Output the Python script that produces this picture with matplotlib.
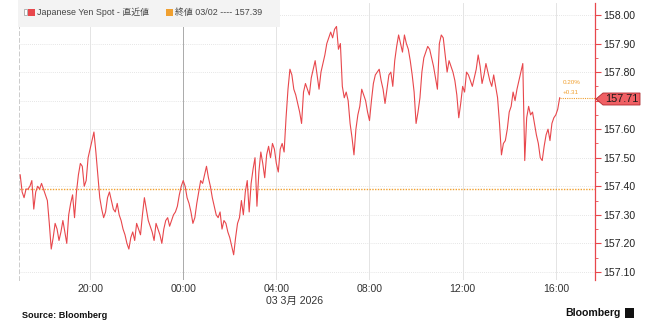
#!/usr/bin/env python3

import pandas
import matplotlib
matplotlib.use('Agg')
import matplotlib.pyplot as plt
import matplotlib.dates as mdates
import matplotlib.transforms as mtransforms
from matplotlib.patches import Polygon, Rectangle

# USD/JPY spot, 5 minute samples from 2026-03-02 17:00
start_time = '2026-03-02 17:00'
prices = [
    157.44, 157.38, 157.36, 157.39, 157.39, 157.40, 157.42, 157.32, 157.38, 157.40,
    157.39, 157.41, 157.39, 157.37, 157.35, 157.27, 157.18, 157.22, 157.27, 157.25,
    157.21, 157.24, 157.28, 157.24, 157.20, 157.30, 157.34, 157.37, 157.29, 157.38,
    157.44, 157.48, 157.47, 157.40, 157.42, 157.50, 157.53, 157.56, 157.59, 157.52,
    157.44, 157.36, 157.32, 157.29, 157.31, 157.36, 157.38, 157.35, 157.32, 157.31,
    157.34, 157.30, 157.28, 157.25, 157.23, 157.20, 157.18, 157.22, 157.24, 157.21,
    157.27, 157.25, 157.23, 157.30, 157.36, 157.32, 157.28, 157.26, 157.24, 157.21,
    157.27, 157.25, 157.23, 157.20, 157.25, 157.28, 157.29, 157.26, 157.28, 157.30,
    157.31, 157.33, 157.37, 157.40, 157.42, 157.40, 157.36, 157.34, 157.31, 157.27,
    157.29, 157.34, 157.38, 157.42, 157.41, 157.44, 157.47, 157.43, 157.40, 157.36,
    157.33, 157.30, 157.29, 157.31, 157.25, 157.28, 157.27, 157.24, 157.22, 157.19,
    157.16, 157.22, 157.27, 157.29, 157.35, 157.30, 157.38, 157.42, 157.31, 157.41,
    157.46, 157.50, 157.33, 157.45, 157.52, 157.48, 157.43, 157.51, 157.54, 157.50,
    157.55, 157.53, 157.48, 157.45, 157.53, 157.55, 157.52, 157.64, 157.74, 157.81,
    157.79, 157.74, 157.72, 157.69, 157.66, 157.62, 157.73, 157.76, 157.74, 157.72,
    157.78, 157.81, 157.84, 157.79, 157.74, 157.80, 157.83, 157.86, 157.90, 157.92,
    157.94, 157.92, 157.95, 157.96, 157.88, 157.90, 157.75, 157.71, 157.73, 157.70,
    157.62, 157.57, 157.51, 157.60, 157.65, 157.68, 157.74, 157.72, 157.70, 157.66,
    157.63, 157.70, 157.76, 157.79, 157.80, 157.81, 157.77, 157.74, 157.69, 157.74,
    157.79, 157.80, 157.75, 157.84, 157.89, 157.93, 157.90, 157.87, 157.93, 157.90,
    157.88, 157.84, 157.79, 157.73, 157.62, 157.66, 157.71, 157.80, 157.85, 157.87,
    157.89, 157.88, 157.85, 157.82, 157.78, 157.74, 157.90, 157.93, 157.92, 157.86,
    157.80, 157.84, 157.82, 157.80, 157.77, 157.72, 157.64, 157.69, 157.75, 157.73,
    157.80, 157.79, 157.77, 157.75, 157.78, 157.81, 157.86, 157.82, 157.76, 157.79,
    157.83, 157.80, 157.77, 157.75, 157.79, 157.75, 157.71, 157.62, 157.51, 157.55,
    157.56, 157.60, 157.66, 157.68, 157.73, 157.70, 157.74, 157.77, 157.80, 157.83,
    157.49, 157.64, 157.68, 157.65, 157.66, 157.62, 157.58, 157.55, 157.50, 157.49,
    157.54, 157.58, 157.60, 157.56, 157.62, 157.64, 157.65, 157.67, 157.71,
]
prev_close = 157.39
last_price = 157.71
change_pct = '0.20%'
change_abs = '+0.31'

y_ticks = [157.10, 157.20, 157.30, 157.40, 157.50, 157.60, 157.70, 157.80, 157.90, 158.00]
x_ticks = ['2026-03-02 20:00', '2026-03-03 00:00', '2026-03-03 04:00',
           '2026-03-03 08:00', '2026-03-03 12:00', '2026-03-03 16:00']

RED = '#e8474c'
ORANGE = '#f0a030'
CJK = ['Liberation Sans', 'Noto Sans CJK JP', 'DejaVu Sans']

plt.rcParams['font.family'] = CJK

times = pandas.date_range(start_time, periods=len(prices), freq='5min')
series = pandas.Series(prices, index=times)

fig = plt.figure(figsize=(6.56, 3.34), dpi=100)
ax = fig.add_axes([0.029, 0.162, 0.878, 0.829])

# grid
for t in y_ticks:
    ax.axhline(t, color='#dddddd', lw=0.6, ls=(0, (1, 1.5)), zorder=0)
for t in x_ticks:
    c = '#aaaaaa' if t.endswith('00:00') and '03-03' in t else '#e4e4e4'
    ax.axvline(pandas.Timestamp(t), color=c, lw=0.7, zorder=0)

# previous close + price line
ax.axhline(prev_close, color=ORANGE, lw=1.0, ls=(0, (1, 1)), zorder=1)
ax.plot(series.index, series.values, color=RED, lw=0.8, zorder=3)
ax.plot([series.index[-1], pandas.Timestamp('2026-03-03 17:41')],
        [last_price, last_price], color=ORANGE, lw=0.8, ls=(0, (1, 1)), zorder=2)

ax.set_xlim(pandas.Timestamp('2026-03-02 16:57'), pandas.Timestamp('2026-03-03 17:41'))
ax.set_ylim(157.072, 158.042)

# axes look
for s in ['top', 'bottom']:
    ax.spines[s].set_visible(False)
ax.spines['left'].set_color('#cccccc')
ax.spines['left'].set_linestyle((0, (4, 3)))
ax.spines['left'].set_linewidth(0.7)
ax.spines['right'].set_color(RED)
ax.spines['right'].set_linewidth(0.9)

ax.yaxis.tick_right()
ax.set_yticks(y_ticks)
# the 157.70 label sits under the last price tag
ax.set_yticklabels(['' if abs(v - 157.70) < 1e-6 else '%.2f' % v for v in y_ticks])
ax.yaxis.set_minor_locator(plt.MultipleLocator(0.05))
ax.tick_params(axis='y', which='major', length=4, color=RED, labelsize=7.6,
               labelcolor='#222222', pad=2, direction='out')
ax.tick_params(axis='y', which='minor', length=2, color=RED, direction='out')
ax.tick_params(axis='y', which='both', left=False, right=True)

ax.set_xticks([pandas.Timestamp(t) for t in x_ticks])
ax.xaxis.set_major_formatter(mdates.DateFormatter('%H:%M'))
ax.tick_params(axis='x', length=0, labelsize=7.6, labelcolor='#333333', pad=3)

# change annotation
ax.text(pandas.Timestamp('2026-03-03 16:17'), last_price + 0.045, change_pct,
        color=ORANGE, fontsize=4.5, va='bottom')
ax.text(pandas.Timestamp('2026-03-03 16:17'), last_price + 0.01, change_abs,
        color=ORANGE, fontsize=4.5, va='bottom')

# last price tag
tag = Polygon([(596, 99), (603, 93), (640, 93), (640, 105), (603, 105)],
              closed=True, facecolor='#f06064', edgecolor='#b02a2e', lw=0.6,
              clip_on=False, zorder=5)
tag.set_transform(mtransforms.Affine2D().scale(1, -1).translate(0, 334))
fig.patches.append(tag)
fig.text(622 / 656, 1 - 99 / 334, '%.2f' % last_price, ha='center', va='center',
         fontsize=7.8, color='#1a1a1a', zorder=6)

# legend strip
fig.patches.append(Rectangle((18 / 656, 1 - 27 / 334), 262 / 656, 27 / 334,
                             transform=fig.transFigure, facecolor='#f3f3f3',
                             edgecolor='none', zorder=0))
fig.patches.append(Rectangle((24 / 656, 1 - 15 / 334), 3 / 656, 6 / 334,
                             transform=fig.transFigure, facecolor='white',
                             edgecolor='#999999', lw=0.5))
fig.patches.append(Rectangle((28 / 656, 1 - 16 / 334), 7 / 656, 7 / 334,
                             transform=fig.transFigure, facecolor=RED, edgecolor='none'))
fig.text(37 / 656, 1 - 12.5 / 334, 'Japanese Yen Spot - 直近値', fontsize=6.4,
         color='#444444', va='center', family=CJK)
fig.patches.append(Rectangle((166 / 656, 1 - 16 / 334), 7 / 656, 7 / 334,
                             transform=fig.transFigure, facecolor=ORANGE, edgecolor='none'))
fig.text(175 / 656, 1 - 12.5 / 334, '終値 03/02 ---- 157.39', fontsize=6.4,
         color='#444444', va='center', family=CJK)

# date label under axis
fig.text(266 / 656, 1 - 301 / 334, '03 3月 2026', fontsize=7.6, color='#333333',
         va='center', family=CJK)

# footer
fig.text(22 / 656, 1 - 315 / 334, 'Source: Bloomberg', fontsize=6.6,
         fontweight='bold', color='#111111', va='center')
fig.text(621 / 656, 1 - 313 / 334, 'Bloomberg', fontsize=7.6, fontweight='bold',
         color='#111111', va='center', ha='right')
fig.patches.append(Rectangle((625 / 656, 1 - 318 / 334), 9 / 656, 10 / 334,
                             transform=fig.transFigure, facecolor='#111111',
                             edgecolor='none'))

fig.savefig('out.png', dpi=100)
